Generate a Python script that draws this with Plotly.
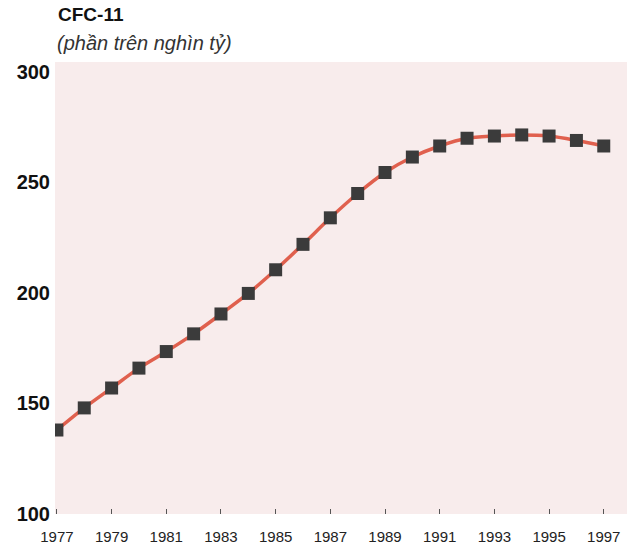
import plotly.graph_objects as go

years = list(range(1977, 1998))
cfc11 = [138, 148, 157, 166, 173.5, 181.5, 190.5, 199.8, 210.5, 222, 234, 245,
         254.5, 261.5, 266.5, 270, 271, 271.5, 271, 269, 266.5]
xtick_vals = [1977, 1979, 1981, 1983, 1985, 1987, 1989, 1991, 1993, 1995, 1997]
xtick_text = [str(v) for v in xtick_vals]
ytick_vals = [100, 150, 200, 250, 300]

W, H = 627, 548
ML, MR, MT, MB = 55, 0, 62, 34
pw, ph = W - ML - MR, H - MT - MB

def px_to_paper(px, py):
    return (px - ML) / pw, (H - MB - py) / ph

fig = go.Figure()
fig.add_trace(go.Scatter(
    x=years, y=cfc11, mode="lines",
    line=dict(color="#e0604e", width=3.5, shape="spline", smoothing=0.8),
    hoverinfo="skip", showlegend=False))
fig.add_trace(go.Scatter(
    x=years, y=cfc11, mode="markers",
    marker=dict(symbol="square", size=13, color="#3b3b3b"),
    showlegend=False))

tx, ty = px_to_paper(56, 15)
sx, sy = px_to_paper(55, 43)

fig.update_layout(
    width=W, height=H,
    margin=dict(l=ML, r=MR, t=MT, b=MB, autoexpand=False),
    paper_bgcolor="white",
    plot_bgcolor="#f8ecec",
    font=dict(family="Liberation Sans, Arial, sans-serif", color="#111"),
    xaxis=dict(range=[1976.93, 1997.85], tickvals=xtick_vals, ticktext=xtick_text,
               showgrid=False, zeroline=False, showline=False, automargin=False,
               ticks="inside", ticklen=5, tickwidth=1, tickcolor="#555",
               tickfont=dict(size=15, color="#222"), ticklabelstandoff=12),
    yaxis=dict(range=[100, 304.5], tickvals=ytick_vals, automargin=False,
               showgrid=False, zeroline=False, showline=False,
               ticks="", tickfont=dict(size=20, color="#111", weight="bold"),
               ticklabelstandoff=4),
    annotations=[
        dict(text="<b>CFC-11</b>", x=tx, y=ty, xref="paper", yref="paper", showarrow=False,
             xanchor="left", yanchor="middle", font=dict(size=19, color="#111")),
        dict(text="<i>(phần trên nghìn tỷ)</i>", x=sx, y=sy, xref="paper", yref="paper",
             showarrow=False, xanchor="left", yanchor="middle",
             font=dict(size=20, color="#333")),
    ],
)

fig.write_html("out.html", config={"displayModeBar": False},
               post_script="document.body.style.margin='0';document.body.style.overflow='hidden';")
